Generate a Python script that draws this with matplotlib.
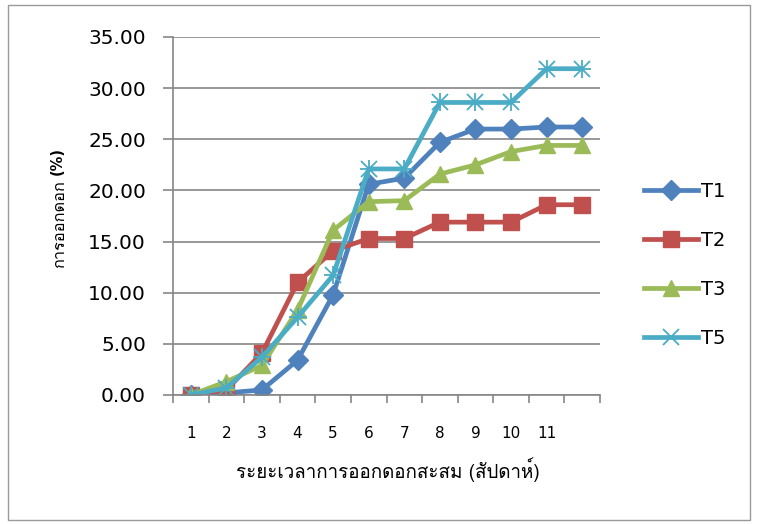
import matplotlib
matplotlib.use("Agg")
import matplotlib.pyplot as plt
from matplotlib import font_manager
from matplotlib.ft2font import FT2Font
from matplotlib.patches import Rectangle

# ---- data ----
weeks = ["1", "2", "3", "4", "5", "6", "7", "8", "9", "10", "11", ""]
t1 = [0.0, 0.2, 0.5, 3.4, 9.8, 20.6, 21.2, 24.7, 26.0, 26.0, 26.2, 26.2]
t2 = [0.0, 0.5, 4.1, 11.0, 14.1, 15.3, 15.3, 16.9, 16.9, 16.9, 18.6, 18.6]
t3 = [0.0, 1.3, 2.9, 8.3, 16.1, 18.9, 19.0, 21.6, 22.5, 23.8, 24.4, 24.4]
t5 = [0.0, 0.7, 3.7, 7.6, 11.7, 22.1, 22.1, 28.6, 28.6, 28.6, 31.9, 31.9]
series_names = ["T1", "T2", "T3", "T5"]
xlabel = "ระยะเวลาการออกดอกสะสม (สัปดาห์)"
ylabel_thai = "การออกดอก"
ylabel_pct = "(%)"

# find a font with Thai glyphs
thai_fams = []
for f in font_manager.fontManager.ttflist:
    try:
        cm = FT2Font(f.fname).get_charmap()
        if 0x0E01 in cm and f.name not in thai_fams:
            thai_fams.append(f.name)
    except Exception:
        pass
fams = thai_fams + ["DejaVu Sans"]
plt.rcParams['font.family'] = fams

fig = plt.figure(figsize=(7.59, 5.24), dpi=100)
fig.patches.append(Rectangle((8/759, 4/524), 742/759, 515/524, transform=fig.transFigure,
                             fill=False, edgecolor="#9a9a9a", linewidth=1))
ax = fig.add_axes([173/759, 1-395/524, 427/759, 358/524])

x = list(range(len(weeks)))
styles = [
    (t1, "#4F81BD", "D", 10),
    (t2, "#C0504D", "s", 12),
    (t3, "#9BBB59", "^", 12),
    (t5, "#4BACC6", "x", 11),
]
for (vals, col, mk, ms), name in zip(styles, series_names):
    kw = dict(color=col, linewidth=3.4, marker=mk, markersize=ms, label=name,
              markerfacecolor=col, markeredgecolor=col)
    if mk == "x":
        kw["markeredgewidth"] = 1.3
    ax.plot(x, vals, **kw)
    if mk == "x":
        ax.plot(x, vals, linestyle="none", marker="+", markersize=ms + 2,
                markeredgewidth=1.3, color=col)

ax.set_xlim(-0.5, len(weeks) - 0.5)
ax.set_ylim(0, 35)
ax.set_yticks([0, 5, 10, 15, 20, 25, 30, 35])
ax.set_yticklabels([f"{v:.2f}" for v in [0, 5, 10, 15, 20, 25, 30, 35]], fontsize=14.5,
                   family="DejaVu Sans")
ax.set_xticks(x)
ax.set_xticklabels(weeks, fontsize=11, family="DejaVu Sans")
ax.set_xticks([i - 0.5 for i in range(len(weeks) + 1)], minor=True)
ax.tick_params(axis="x", which="major", length=0, pad=22)
ax.tick_params(axis="x", which="minor", length=6, color="#868686", width=1.2)
ax.tick_params(axis="y", length=7, color="#868686", width=1.2, pad=12.5)
ax.yaxis.grid(True, color="#868686", linewidth=1.2)
ax.set_axisbelow(True)
for s in ["top", "right"]:
    ax.spines[s].set_visible(False)
for s in ["left", "bottom"]:
    ax.spines[s].set_color("#868686")
    ax.spines[s].set_linewidth(1.2)

fig.text(388/759, 1-470/524, xlabel, ha="center", va="center", fontsize=13.5)

# Thai y label: size so that its length matches ~88 px
yl = fig.text(60/759, 1-224/524, ylabel_thai, ha="center", va="center", rotation=90,
              fontsize=10)
renderer = fig.canvas.get_renderer()
h = yl.get_window_extent(renderer).height
yl.set_fontsize(min(13.5, 10 * 88.0 / h))
fig.text(57/759, 1-161/524, ylabel_pct, ha="center", va="center", rotation=90, fontsize=10.5,
         fontweight="bold", family="DejaVu Sans")

leg = fig.legend(loc="center left", bbox_to_anchor=(626/759, 1-265/524), frameon=False,
                 prop={"family": "DejaVu Sans", "size": 14}, handlelength=2.8,
                 labelspacing=1.55, handletextpad=0.15)

fig.savefig("out.png", dpi=100)
